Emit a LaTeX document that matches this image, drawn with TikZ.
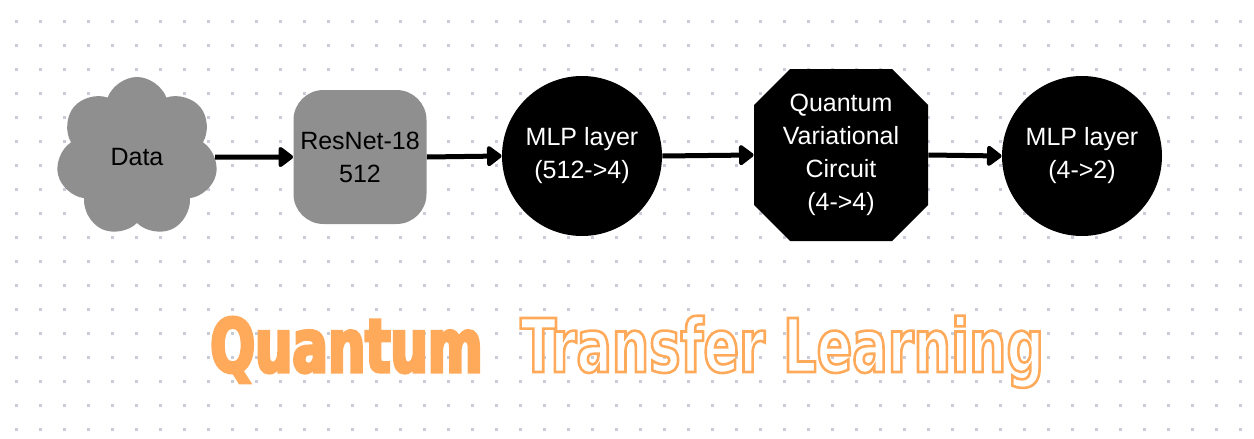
\documentclass[tikz,border=0pt]{standalone}
\usepackage{fontspec}
\usetikzlibrary{arrows.meta,shapes.symbols,shapes.misc}
\setmainfont{Liberation Sans}
\newfontfamily\titlefont[FakeStretch=0.71]{DejaVu Sans}
\definecolor{boxgray}{RGB}{143,143,143}
\definecolor{dotgray}{RGB}{200,204,214}
\definecolor{titleorange}{RGB}{255,170,90}
% letters filled in the text colour and drawn round with an orange stroke: #1 = stroke width
\newcommand{\stroked}[2]{\special{pdf:literal direct 2 Tr 1 0.667 0.353 RG #1 w}#2\special{pdf:literal direct 0 Tr}}

\begin{document}
\begin{tikzpicture}[x=0.5pt,y=-0.5pt,
		block/.style={inner sep=0pt,align=center,font=\fontsize{12.5}{16.5}\selectfont},
		link/.style={line width=2.5pt,-{Triangle[length=8pt,width=11.5pt,round]}},
		headline/.style={anchor=base west,inner sep=0pt,font=\titlefont\bfseries\fontsize{37}{40}\selectfont}]
		\useasboundingbox (0,0) rectangle (1254,439);
		% dotted paper
		\foreach \i in {0,...,51}
			\foreach \j in {0,...,17}
				\fill[dotgray] (14.5+24*\i,19.5+24*\j) rectangle ++(3,3);
		% pipeline
		\node[block,cloud,cloud puffs=7,cloud puff arc=140,cloud ignores aspect,fill=boxgray,minimum width=81pt,minimum height=80pt] (data) at (137,157) {Data};
		\node[block,rectangle,rounded corners=15pt,fill=boxgray,minimum width=66.5pt,minimum height=67pt] (resnet) at (360,157) {ResNet-18\\512};
		\node[block,circle,fill=black,text=white,minimum size=80pt] (mlpa) at (582,156) {MLP layer\\(512->4)};
		\node[block,chamfered rectangle,chamfered rectangle xsep=9pt,chamfered rectangle ysep=9pt,fill=black,text=white,minimum width=87pt,minimum height=86pt] (qvc) at (841,155) {Quantum\\Variational\\Circuit\\(4->4)};
		\node[block,circle,fill=black,text=white,minimum size=80pt] (mlpb) at (1082,156) {MLP layer\\(4->2)};
		\draw[link] (data.east) -- (resnet.west);
		\draw[link] (resnet.east) -- (mlpa.west);
		\draw[link] (mlpa.east) -- (qvc.west);
		\draw[link] (qvc.east) -- (mlpb.west);
		% title
		\node[headline,text=titleorange] (quantum) at (210,372) {\stroked{1.6}{Quantum}};
		\node[headline,text=white] (transfer) at (520,372) {\stroked{1.3}{Transfer Learning}};
\end{tikzpicture}
\end{document}
